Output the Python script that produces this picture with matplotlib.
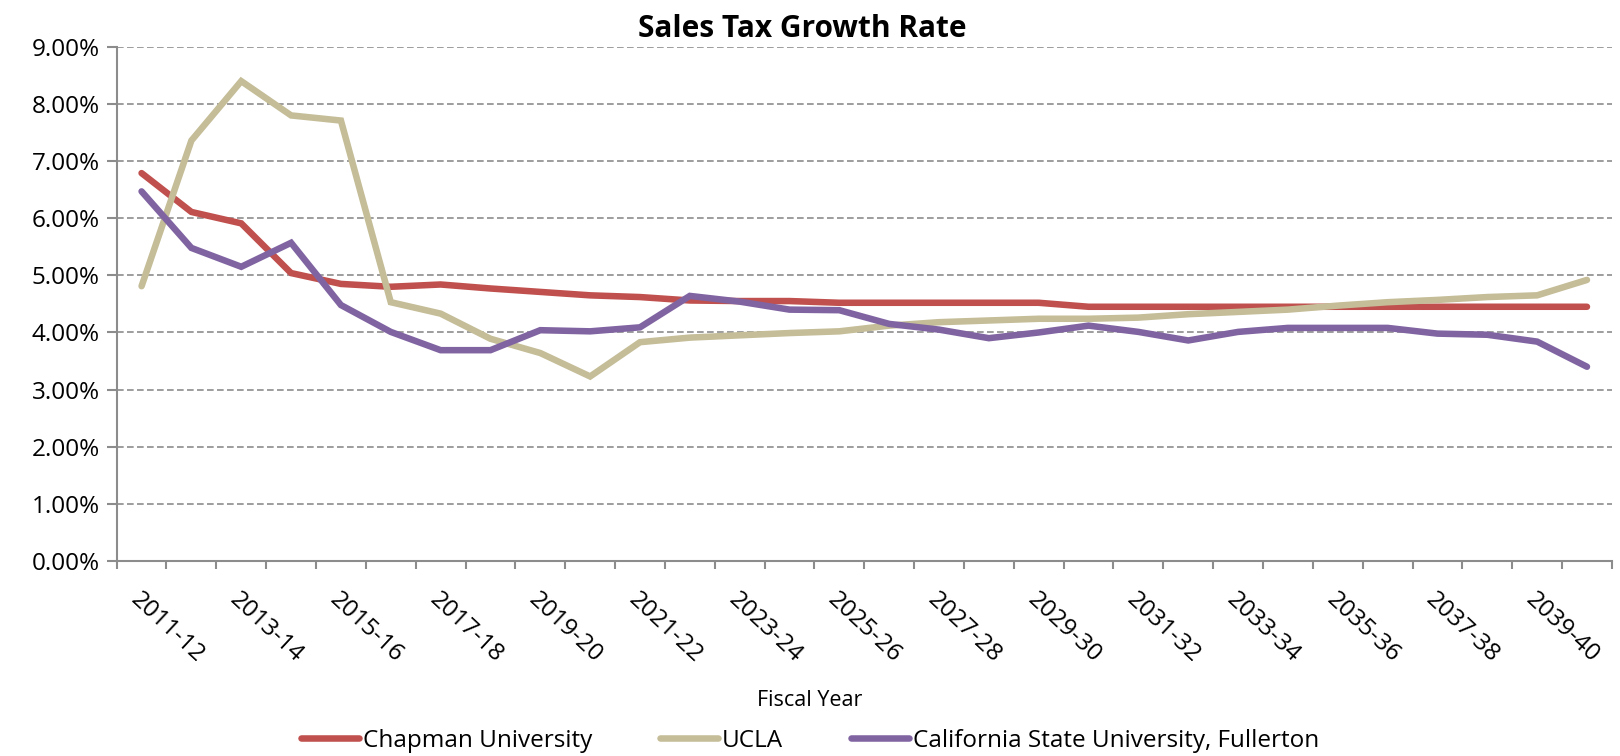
import numpy as np
import matplotlib
matplotlib.use("Agg")
import matplotlib.pyplot as plt
from matplotlib.ticker import FixedLocator, FuncFormatter

plt.rcParams['font.family'] = ['Open Sans', 'DejaVu Sans']

# fiscal years 2011-12 .. 2040-41
years = [f"{y}-{str(y + 1)[-2:]}" for y in range(2011, 2041)]

chapman = [6.79, 6.11, 5.91, 5.04, 4.85, 4.80, 4.84, 4.77, 4.71, 4.65,
           4.62, 4.56, 4.55, 4.55, 4.52, 4.52, 4.52, 4.52, 4.52, 4.45,
           4.45, 4.45, 4.45, 4.45, 4.45, 4.45, 4.45, 4.45, 4.45, 4.45]
ucla = [4.81, 7.36, 8.40, 7.80, 7.71, 4.53, 4.33, 3.89, 3.64, 3.23,
        3.83, 3.91, 3.95, 3.99, 4.02, 4.12, 4.18, 4.21, 4.24, 4.24,
        4.26, 4.32, 4.36, 4.40, 4.47, 4.53, 4.57, 4.62, 4.65, 4.92]
csuf = [6.47, 5.48, 5.15, 5.57, 4.48, 4.01, 3.69, 3.69, 4.04, 4.02,
        4.09, 4.64, 4.54, 4.40, 4.39, 4.15, 4.05, 3.90, 4.00, 4.12,
        4.01, 3.86, 4.01, 4.08, 4.08, 4.08, 3.98, 3.96, 3.84, 3.40]

series = [("Chapman University", chapman, "#C0504D"),
          ("UCLA", ucla, "#C4BD97"),
          ("California State University, Fullerton", csuf, "#8064A2")]

fig = plt.figure(figsize=(16.2, 7.56), dpi=100)
ax = fig.add_axes([0.072, 0.258, 0.923, 0.680])

x = np.arange(len(years))
for name, vals, col in series:
    ax.plot(x, vals, color=col, lw=4.7, label=name, solid_capstyle='round',
            solid_joinstyle='miter')

ax.set_xlim(-0.5, len(years) - 0.5)
ax.set_ylim(0, 9)
ax.set_yticks(np.arange(0, 9.01, 1))
ax.yaxis.set_major_formatter(FuncFormatter(lambda v, p: f"{v:.2f}%"))
ax.grid(axis='y', color='#8c8c8c', ls=(0, (4, 2)), lw=1.2)
ax.set_axisbelow(True)

ax.xaxis.set_major_locator(FixedLocator(x[::2]))
ax.set_xticklabels(years[::2], rotation=-43, ha='left', va='top',
                   rotation_mode='anchor', fontsize=17.5)
ax.xaxis.set_minor_locator(FixedLocator(np.arange(-0.5, len(years), 1)))
ax.tick_params(axis='x', which='major', length=0, pad=19)
ax.tick_params(axis='x', which='minor', length=6, width=1.5, color='#8c8c8c')
ax.tick_params(axis='y', length=7, width=1.5, color='#8c8c8c', labelsize=17.5,
               pad=5)

for s in ['top', 'right']:
    ax.spines[s].set_visible(False)
for s in ['left', 'bottom']:
    ax.spines[s].set_color('#8c8c8c')
    ax.spines[s].set_linewidth(1.5)

fig.text(0.495, 0.962, "Sales Tax Growth Rate", ha='center', va='center',
         fontsize=21.5, fontweight='bold')
fig.text(0.5, 0.074, "Fiscal Year", ha='center', va='center', fontsize=15.5)
fig.legend(loc='center', bbox_to_anchor=(0.5, 0.02), ncol=3, frameon=False,
           fontsize=17.5, handlelength=2.4, columnspacing=2.8,
           handletextpad=0.15)

fig.savefig("out.png", dpi=100)
